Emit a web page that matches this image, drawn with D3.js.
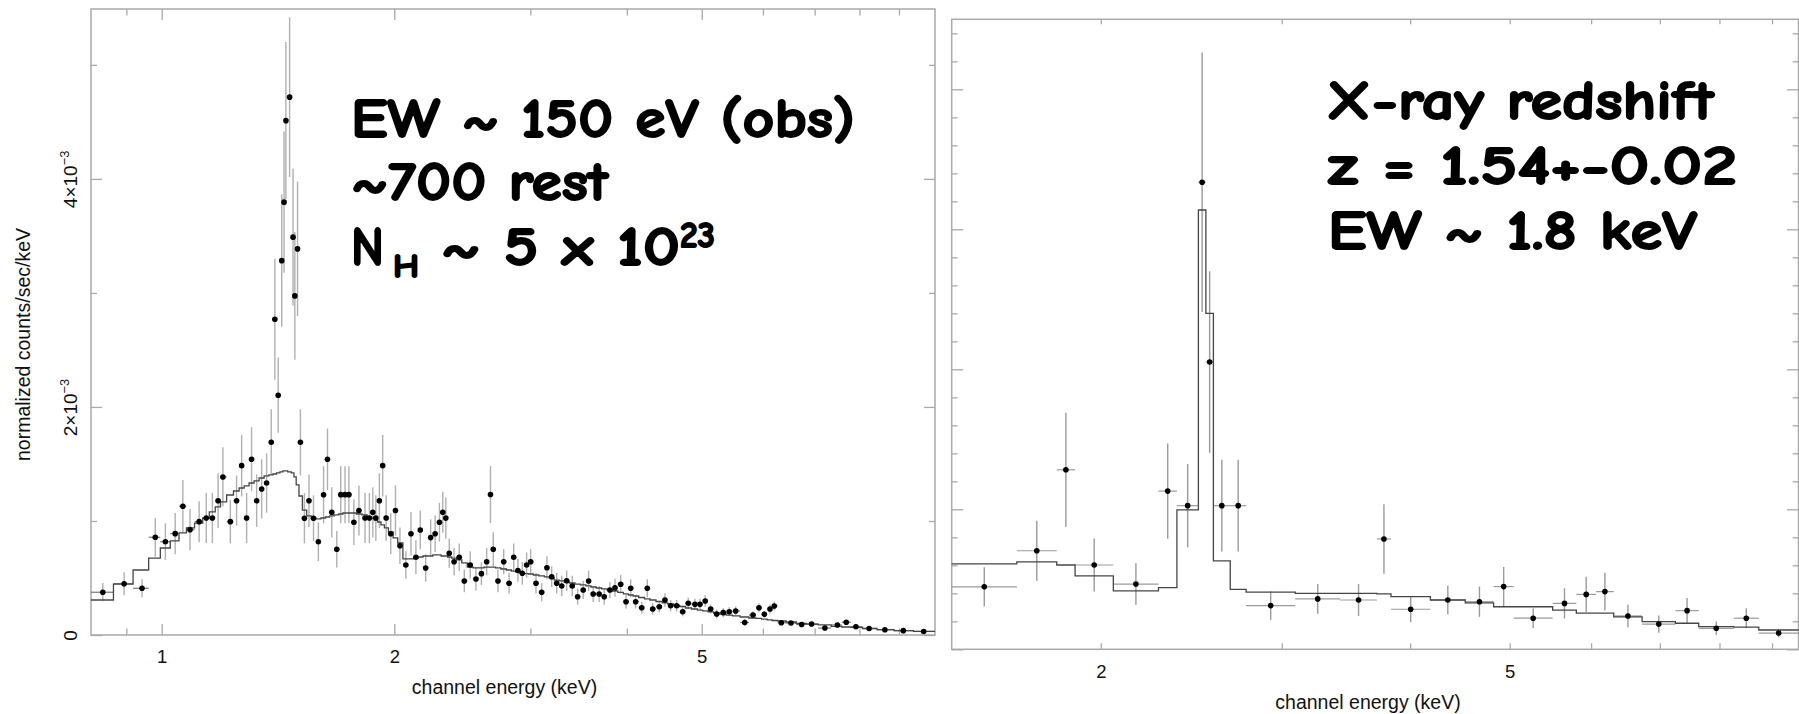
<!DOCTYPE html>
<html>
<head>
<meta charset="utf-8">
<script src="https://cdn.jsdelivr.net/npm/d3@7"></script>
<style>
  html, body { margin: 0; padding: 0; background: #fff; }
  svg { display: block; }
  .note { font-family: "Comic Sans MS", "Comic Neue", "DejaVu Sans", sans-serif; font-weight: bold; fill: #000; stroke: #000; stroke-width: 1.8; stroke-linejoin: round; }
</style>
</head>
<body>
<svg id="chart" width="1799" height="714"></svg>
<script>
// ── left spectrum: channel energy (keV), rate (x1e-3 counts/sec/keV), 1σ error, model ──
const leftE = [0.839, 0.894, 0.943, 0.981, 1.011, 1.041, 1.065, 1.088, 1.118, 1.142,
  1.163, 1.183, 1.200, 1.227, 1.250, 1.269, 1.288, 1.307, 1.327, 1.347,
  1.367, 1.386, 1.401, 1.415, 1.430, 1.440, 1.448, 1.464, 1.479, 1.487,
  1.499, 1.512, 1.530, 1.551, 1.572, 1.595, 1.620, 1.639, 1.660, 1.685,
  1.705, 1.727, 1.747, 1.773, 1.800, 1.833, 1.857, 1.876, 1.893, 1.913,
  1.932, 1.952, 1.979, 2.007, 2.034, 2.070, 2.102, 2.133, 2.161, 2.196,
  2.229, 2.259, 2.288, 2.311, 2.332, 2.356, 2.390, 2.427, 2.464, 2.508,
  2.551, 2.593, 2.634, 2.664, 2.686, 2.724, 2.771, 2.816, 2.855, 2.891,
  2.929, 2.967, 3.003, 3.051, 3.103, 3.152, 3.197, 3.245, 3.294, 3.343,
  3.399, 3.454, 3.512, 3.569, 3.618, 3.683, 3.739, 3.803, 3.861, 3.927,
  3.990, 4.046, 4.106, 4.181, 4.251, 4.320, 4.406, 4.481, 4.557, 4.640,
  4.724, 4.803, 4.900, 4.974, 5.052, 5.134, 5.227, 5.331, 5.427, 5.532,
  5.683, 5.825, 5.930, 6.025, 6.128, 6.206, 6.337, 6.523, 6.734, 6.937,
  7.217, 7.491, 7.691, 7.916, 8.233, 8.630, 9.117, 9.687];
const leftRate = [0.375, 0.450, 0.410, 0.857, 0.818, 0.889, 1.129, 0.924, 0.994, 1.026,
  1.026, 1.178, 1.386, 0.994, 1.178, 1.485, 1.026, 1.541, 1.178, 1.281,
  1.333, 1.690, 2.769, 2.103, 3.283, 3.796, 4.511, 4.717, 3.489, 2.974,
  3.386, 1.690, 1.024, 1.178, 1.024, 0.818, 1.230, 1.541, 1.076, 0.752,
  1.231, 1.231, 1.231, 0.989, 1.092, 1.026, 1.026, 1.076, 1.026, 1.178,
  1.485, 1.026, 0.888, 1.092, 0.783, 0.614, 0.888, 0.682, 0.921, 0.588,
  0.854, 0.888, 0.989, 1.076, 1.025, 0.717, 0.643, 0.682, 0.474, 0.614,
  0.491, 0.538, 0.643, 1.232, 0.752, 0.474, 0.643, 0.454, 0.682, 0.566,
  0.541, 0.614, 0.643, 0.454, 0.375, 0.590, 0.511, 0.454, 0.430, 0.476,
  0.430, 0.336, 0.395, 0.474, 0.360, 0.360, 0.336, 0.395, 0.415, 0.445,
  0.292, 0.410, 0.292, 0.239, 0.410, 0.228, 0.248, 0.307, 0.257, 0.257,
  0.204, 0.278, 0.269, 0.269, 0.298, 0.228, 0.184, 0.196, 0.204, 0.211,
  0.110, 0.175, 0.239, 0.182, 0.228, 0.254, 0.107, 0.105, 0.092, 0.096,
  0.061, 0.088, 0.112, 0.073, 0.057, 0.046, 0.038, 0.031];
const leftErr = [0.08, 0.10, 0.08, 0.17, 0.16, 0.18, 0.23, 0.18, 0.18, 0.22,
  0.22, 0.24, 0.26, 0.19, 0.22, 0.27, 0.22, 0.28, 0.23, 0.26,
  0.26, 0.29, 0.53, 0.33, 0.58, 0.62, 0.69, 0.70, 0.60, 0.56,
  0.59, 0.29, 0.22, 0.23, 0.20, 0.17, 0.25, 0.27, 0.22, 0.16,
  0.25, 0.25, 0.25, 0.20, 0.22, 0.22, 0.22, 0.22, 0.20, 0.24,
  0.27, 0.20, 0.18, 0.22, 0.16, 0.12, 0.19, 0.15, 0.17, 0.12,
  0.16, 0.16, 0.17, 0.18, 0.18, 0.13, 0.12, 0.12, 0.10, 0.12,
  0.10, 0.10, 0.12, 0.25, 0.15, 0.10, 0.11, 0.09, 0.12, 0.10,
  0.10, 0.11, 0.11, 0.09, 0.08, 0.10, 0.09, 0.09, 0.09, 0.09,
  0.09, 0.07, 0.08, 0.09, 0.07, 0.07, 0.07, 0.07, 0.08, 0.08,
  0.06, 0.08, 0.06, 0.05, 0.08, 0.05, 0.05, 0.06, 0.05, 0.05,
  0.04, 0.05, 0.05, 0.05, 0.05, 0.04, 0.04, 0.04, 0.04, 0.04,
  0.03, 0.03, 0.04, 0.03, 0.04, 0.04, 0.02, 0.02, 0.02, 0.02,
  0.02, 0.02, 0.02, 0.02, 0.01, 0.01, 0.01, 0.01];
const leftModel = [0.307, 0.447, 0.570, 0.675, 0.763, 0.825, 0.895, 0.939, 0.982, 1.026,
  1.079, 1.123, 1.167, 1.228, 1.263, 1.289, 1.307, 1.333, 1.351, 1.377,
  1.395, 1.404, 1.412, 1.421, 1.430, 1.439, 1.439, 1.430, 1.421, 1.386,
  1.316, 1.219, 1.096, 1.044, 1.026, 1.018, 1.026, 1.035, 1.044, 1.053,
  1.061, 1.070, 1.070, 1.070, 1.061, 1.053, 1.035, 1.026, 1.009, 0.991,
  0.965, 0.939, 0.904, 0.851, 0.807, 0.667, 0.667, 0.675, 0.684, 0.693,
  0.693, 0.702, 0.702, 0.693, 0.693, 0.684, 0.675, 0.658, 0.632, 0.596,
  0.588, 0.588, 0.596, 0.596, 0.596, 0.588, 0.579, 0.570, 0.561, 0.553,
  0.544, 0.539, 0.535, 0.526, 0.518, 0.509, 0.500, 0.482, 0.474, 0.465,
  0.456, 0.447, 0.439, 0.430, 0.421, 0.412, 0.404, 0.395, 0.386, 0.373,
  0.360, 0.351, 0.342, 0.329, 0.316, 0.307, 0.294, 0.281, 0.272, 0.259,
  0.250, 0.237, 0.228, 0.219, 0.211, 0.202, 0.193, 0.184, 0.175, 0.167,
  0.158, 0.149, 0.145, 0.140, 0.132, 0.127, 0.123, 0.114, 0.101, 0.096,
  0.088, 0.075, 0.070, 0.066, 0.057, 0.048, 0.039, 0.032];

// left axes
const leftXMajor = [1, 2, 5];
const leftXMinor = [0.9, 3, 4, 6, 7, 8, 9];
const leftYMajor = [0, 2, 4];
const leftYMinor = [1, 3, 5];
const leftYLabels = [["0", ""], ["2×10", "−3"], ["4×10", "−3"]];

// ── right spectrum: grouped channels (bin edges, keV), rate, error, model ──
const rightEdges = [1.432, 1.657, 1.812, 1.888, 2.057, 2.276, 2.372, 2.489, 2.531, 2.574,
  2.673, 2.770, 3.092, 3.420, 3.713, 3.832, 4.186, 4.526, 4.823, 5.045,
  5.505, 5.805, 6.068, 6.312, 6.727, 7.248, 7.637, 8.261, 8.737, 9.550];
const rightRate = [2.23, 3.52, 6.41, 3.01, 2.33, 5.65, 5.13, 16.68, 10.26, 5.13,
  5.13, 1.56, 1.80, 1.76, 3.94, 1.43, 1.76, 1.70, 2.24, 1.11,
  1.64, 1.96, 2.06, 1.19, 0.90, 1.38, 0.75, 1.11, 0.58];
const rightErr = [0.70, 1.07, 2.04, 0.95, 0.74, 1.70, 1.49, 4.63, 3.24, 1.64,
  1.64, 0.51, 0.53, 0.57, 1.24, 0.46, 0.52, 0.54, 0.70, 0.35,
  0.54, 0.63, 0.67, 0.40, 0.31, 0.45, 0.24, 0.36, 0.15];
const rightModel = [3.05, 3.12, 3.01, 2.62, 2.09, 2.20, 4.98, 15.69, 12.00, 3.16,
  2.14, 2.04, 2.00, 2.00, 1.98, 1.88, 1.76, 1.66, 1.52, 1.52,
  1.40, 1.29, 1.29, 1.16, 0.99, 0.93, 0.81, 0.79, 0.69];

const rightXLabeled = [2, 5];
const rightXOther = [3, 4, 6, 7, 8, 9];
const rightYMajor = [0, 5, 10, 15, 20];
const rightYMinor = [1, 2, 3, 4, 6, 7, 8, 9, 11, 12, 13, 14, 16, 17, 18, 19, 21, 22];

// annotations pasted on the plots
const leftNotes = ["EW ~ 150 eV (obs)", "~700 rest"];
const rightNotes = ["X-ray redshift", "z = 1.54+-0.02", "EW ~ 1.8 keV"];

// ════════════════════════════════
const svg = d3.select("#chart");
const AX = "#a9a9a9", INK = "#111";
const FONT = "'Liberation Sans', Arial, Helvetica, sans-serif";

const LB = { x0: 91, x1: 935, y0: 9, y1: 635 };
const RB = { x0: 951.7, x1: 1798.5, y0: 19.3, y1: 649.3 };

const xL = d3.scaleLog().domain([0.81, 10.02]).range([LB.x0, LB.x1]);
const yL = d3.scaleLinear().domain([0, 5.49]).range([LB.y1, LB.y0]);
const xR = d3.scaleLog().domain([1.432, 9.55]).range([RB.x0, RB.x1]);
const yR = d3.scaleLinear().domain([0, 22.5]).range([RB.y1, RB.y0]);

function ticks(axis, tr) {
  const a = svg.append("g").attr("transform", tr).call(axis);
  a.select(".domain").remove();
  a.selectAll("line").attr("stroke", AX).attr("stroke-width", 1.3);
  a.selectAll("text").attr("font-family", FONT).attr("font-size", 18.5).attr("fill", INK);
  return a;
}

function frame(b) {
  svg.append("rect").attr("x", b.x0).attr("y", b.y0)
    .attr("width", b.x1 - b.x0).attr("height", b.y1 - b.y0)
    .attr("fill", "none").attr("stroke", AX).attr("stroke-width", 1.5);
}

// ── left axes ──
frame(LB);
ticks(d3.axisBottom(xL).tickValues(leftXMajor).tickSize(-11).tickPadding(15).tickFormat(d3.format("d")), `translate(0,${LB.y1})`);
ticks(d3.axisBottom(xL).tickValues(leftXMinor).tickSize(-6.5).tickFormat(""), `translate(0,${LB.y1})`);
ticks(d3.axisTop(xL).tickValues(leftXMajor).tickSize(-11).tickFormat(""), `translate(0,${LB.y0})`);
ticks(d3.axisTop(xL).tickValues(leftXMinor).tickSize(-6.5).tickFormat(""), `translate(0,${LB.y0})`);
ticks(d3.axisRight(yL).tickValues(leftYMajor).tickSize(-11).tickFormat(""), `translate(${LB.x1},0)`);
ticks(d3.axisRight(yL).tickValues(leftYMinor).tickSize(-6).tickFormat(""), `translate(${LB.x1},0)`);
ticks(d3.axisLeft(yL).tickValues(leftYMinor).tickSize(-6).tickFormat(""), `translate(${LB.x0},0)`);
const yAx = ticks(d3.axisLeft(yL).tickValues(leftYMajor).tickSize(-11).tickFormat(""), `translate(${LB.x0},0)`);
yAx.selectAll(".tick text")
  .attr("x", null).attr("dy", null).attr("font-size", 19)
  .attr("transform", "translate(-14.5,0) rotate(-90)")
  .attr("text-anchor", "middle")
  .each(function (d, i) {
    const t = d3.select(this).text(leftYLabels[i][0]);
    if (leftYLabels[i][1])
      t.append("tspan").attr("dy", "-0.55em").attr("font-size", "0.68em").text(leftYLabels[i][1]);
  });

svg.append("text").attr("transform", "translate(30,344.5) rotate(-90)")
  .attr("text-anchor", "middle").attr("font-family", FONT).attr("font-size", 19.5).attr("fill", INK)
  .text("normalized counts/sec/keV");
svg.append("text").attr("x", 504.5).attr("y", 694)
  .attr("text-anchor", "middle").attr("font-family", FONT).attr("font-size", 19.5).attr("fill", INK)
  .text("channel energy (keV)");

// ── right axes ──
frame(RB);
ticks(d3.axisBottom(xR).tickValues(rightXLabeled).tickSize(-6).tickPadding(15.5).tickFormat(d3.format("d")), `translate(0,${RB.y1})`);
ticks(d3.axisBottom(xR).tickValues(rightXOther).tickSize(-6).tickFormat(""), `translate(0,${RB.y1})`);
ticks(d3.axisTop(xR).tickValues(rightXLabeled.concat(rightXOther)).tickSize(-5).tickFormat(""), `translate(0,${RB.y0})`);
ticks(d3.axisLeft(yR).tickValues(rightYMajor).tickSize(-11.5).tickFormat(""), `translate(${RB.x0},0)`);
ticks(d3.axisLeft(yR).tickValues(rightYMinor).tickSize(-5.7).tickFormat(""), `translate(${RB.x0},0)`);
ticks(d3.axisRight(yR).tickValues(rightYMajor).tickSize(-11.5).tickFormat(""), `translate(${RB.x1},0)`);
ticks(d3.axisRight(yR).tickValues(rightYMinor).tickSize(-5.7).tickFormat(""), `translate(${RB.x1},0)`);

svg.append("text").attr("x", 1368).attr("y", 709)
  .attr("text-anchor", "middle").attr("font-family", FONT).attr("font-size", 19.5).attr("fill", INK)
  .text("channel energy (keV)");

// ── spectra ──
const left = leftE.map((e, i) => ({ e, v: leftRate[i], err: leftErr[i], m: leftModel[i] }));
// channel edges half-way (in log) between neighbouring channels
const lEdges = [xL.domain()[0], ...d3.pairs(leftE).map(([a, b]) => Math.sqrt(a * b)), xL.domain()[1]];
left.forEach((d, i) => { d.lo = lEdges[i]; d.hi = lEdges[i + 1]; });

const right = rightRate.map((v, i) => ({ lo: rightEdges[i], hi: rightEdges[i + 1], v, err: rightErr[i], m: rightModel[i] }));
right.forEach(d => { d.e = Math.sqrt(d.lo * d.hi); });

function drawSpectrum(data, x, y, barCol, xbarCol) {
  const g = svg.append("g");
  g.selectAll(".ye").data(data).join("line")
    .attr("x1", d => x(d.e)).attr("x2", d => x(d.e))
    .attr("y1", d => y(d.v - d.err)).attr("y2", d => y(d.v + d.err))
    .attr("stroke", barCol).attr("stroke-width", 1.4);
  g.selectAll(".xe").data(data).join("line")
    .attr("x1", d => x(d.lo)).attr("x2", d => x(d.hi))
    .attr("y1", d => y(d.v)).attr("y2", d => y(d.v))
    .attr("stroke", xbarCol).attr("stroke-width", 1.2);
  const step = d3.line().x(p => x(p[0])).y(p => y(p[1]));
  g.append("path")
    .attr("d", step(data.flatMap(d => [[d.lo, d.m], [d.hi, d.m]])))
    .attr("fill", "none").attr("stroke", "#454545").attr("stroke-width", 1.3);
  g.selectAll("circle").data(data).join("circle")
    .attr("cx", d => x(d.e)).attr("cy", d => y(d.v)).attr("r", 2.8).attr("fill", "#000");
}

drawSpectrum(left, xL, yL, "#b0b0b0", "#777");
drawSpectrum(right, xR, yR, "#9a9a9a", "#9a9a9a");

// ── notes ──
function note(txt, x, y, size, len) {
  return svg.append("text").attr("class", "note").attr("x", x).attr("y", y)
    .attr("font-size", size).attr("textLength", len).attr("lengthAdjust", "spacingAndGlyphs").text(txt);
}
note(leftNotes[0], 351, 137, 55, 504);
note(leftNotes[1], 351, 200, 55, 257);
note("N", 351, 265, 55, 33);
note("H", 393, 277, 32, 26);
note("~ 5 x 10", 441, 265, 55, 239);
note("23", 680, 247, 37, 35);

note(rightNotes[0], 1326.5, 118.5, 54, 387);
note(rightNotes[1], 1328, 183.5, 54, 409);
note(rightNotes[2], 1328, 248.5, 54, 369);
</script>
</body>
</html>
